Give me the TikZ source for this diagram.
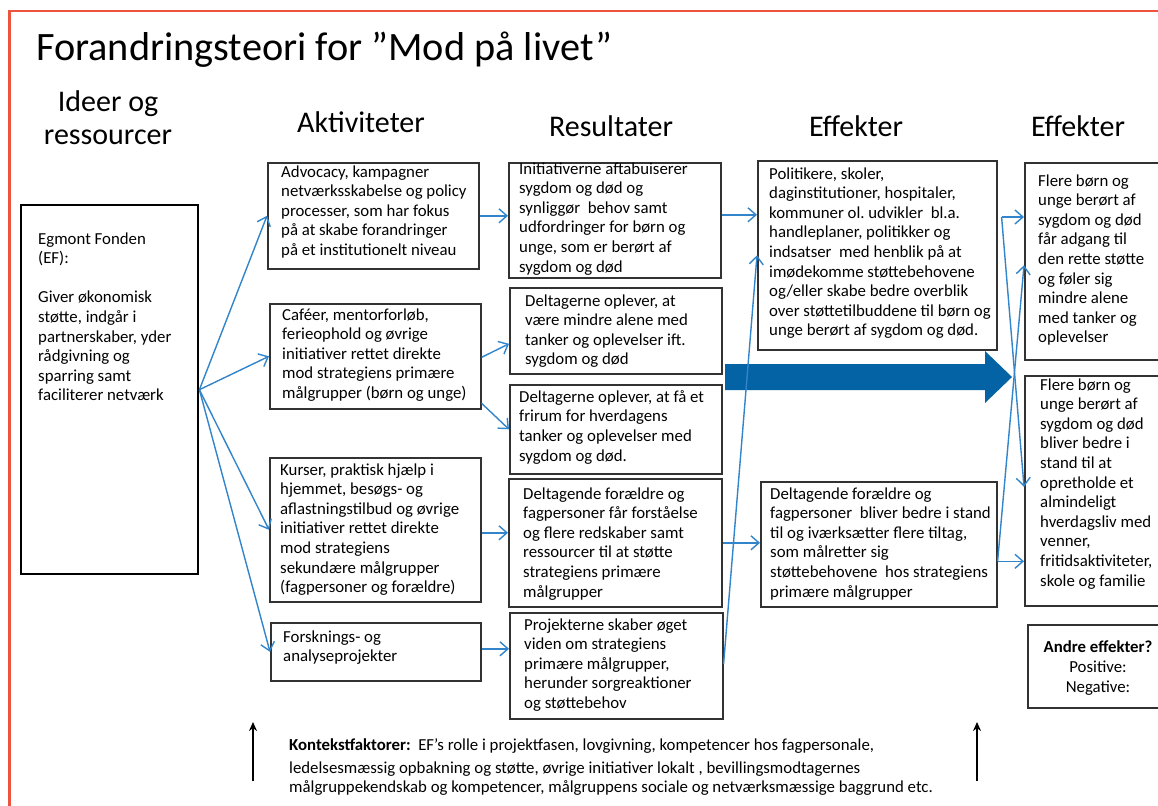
\documentclass[tikz,border=0pt]{standalone}
\usepackage{fontspec}
\setmainfont{Carlito}
\usetikzlibrary{arrows.meta,calc}
\definecolor{connblue}{RGB}{50,133,203}
\definecolor{bigblue}{RGB}{4,99,164}
\definecolor{framered}{RGB}{236,84,64}
\definecolor{boxline}{RGB}{50,50,50}
\begin{document}
\begin{tikzpicture}[x=1pt,y=-1pt,
  box/.style={draw=boxline,line width=1.6pt,inner sep=0pt,anchor=north west},
  txt/.style={anchor=north west,yshift=13.72pt,inner sep=0pt,align=left,font=\fontsize{16.8}{19.6}\selectfont\frenchspacing,execute at begin node={\strut}},
  ctxtxt/.style={anchor=north west,yshift=12.6pt,inner sep=0pt,align=left,font=\fontsize{16.8}{18.5}\selectfont\frenchspacing,execute at begin node={\strut}},
  link/.style={draw=connblue,line width=1.4pt,-{Straight Barb[length=8pt,width=14pt,line width=1.4pt]}},
  hdr/.style={font=\fontsize{30}{33}\selectfont,inner sep=0pt,anchor=base,align=center},
  ctxarrow/.style={draw=black,line width=2pt,-{Stealth[length=9pt,width=8pt]}}]
\clip (0,0) rectangle (1158,805);
\fill[white] (0,0) rectangle (1158,805);
% frame
\draw[framered,line width=2.5pt] (9.5,810) -- (9.5,11) -- (1165,11);
% title and headers
\node[anchor=base west,inner sep=0pt,font=\fontsize{40.3}{44}\selectfont] (title) at (36,61) {Forandringsteori for ”Mod på livet”};
\node[hdr] (hIdeer) at (108,145) {Ideer og\\ressourcer};
\node[hdr] (hAkt) at (361,133) {Aktiviteter};
\node[hdr] (hRes) at (611,137) {Resultater};
\node[hdr] (hEff1) at (856,137) {Effekter};
\node[hdr] (hEff2) at (1078,137) {Effekter};
% boxes
\node[box,draw=black,line width=2.4pt,minimum width=177pt,minimum height=369pt] (EF) at (20,204) {};
\node[box,minimum width=211pt,minimum height=106pt] (A1) at (267,162) {};
\node[box,minimum width=211pt,minimum height=105pt] (A2) at (269,303) {};
\node[box,minimum width=211pt,minimum height=144pt] (A3) at (269,457) {};
\node[box,minimum width=210pt,minimum height=58pt] (A4) at (270,622) {};
\node[box,minimum width=212pt,minimum height=115pt] (R1) at (508,162) {};
\node[box,minimum width=212pt,minimum height=86pt] (R2) at (509,287) {};
\node[box,minimum width=212pt,minimum height=89pt] (R3) at (509,384) {};
\node[box,minimum width=213pt,minimum height=128pt] (R4) at (508,478) {};
\node[box,minimum width=213pt,minimum height=106pt] (R5) at (509,612) {};
\node[box,minimum width=239pt,minimum height=189pt] (E1) at (757,160) {};
\node[box,minimum width=236pt,minimum height=125pt] (E2) at (760,481) {};
\node[box,minimum width=135pt,minimum height=197pt] (F1) at (1024,162) {};
\node[box,minimum width=135pt,minimum height=230pt] (F2) at (1024,375) {};
\node[box,minimum width=132pt,minimum height=83pt] (F3) at (1027,624) {};
% texts (positions give the first baseline)
\node[txt] (tEF) at (38,246) {Egmont Fonden\\(EF):\\[19.6pt]Giver økonomisk\\støtte, indgår i\\partnerskaber, yder\\rådgivning og\\sparring samt\\faciliterer netværk};
\node[txt] (tA1) at (281,179) {Advocacy, kampagner\\netværksskabelse og policy\\processer, som har fokus\\på at skabe forandringer\\på et institutionelt niveau};
\node[txt] (tA2) at (282,322) {Caféer, mentorforløb,\\ferieophold og øvrige\\initiativer rettet direkte\\mod strategiens primære\\målgrupper (børn og unge)};
\node[txt] (tA3) at (280,477) {Kurser, praktisk hjælp i\\hjemmet, besøgs- og\\aflastningstilbud og øvrige\\initiativer rettet direkte\\mod strategiens\\sekundære målgrupper\\(fagpersoner og forældre)};
\node[txt] (tA4) at (283,644) {Forsknings- og\\analyseprojekter};
\node[txt] (tR1) at (519,176) {Initiativerne aftabuiserer\\sygdom og død og\\synliggør\ \ behov samt\\udfordringer for børn og\\unge, som er berørt af\\sygdom og død};
\node[txt] (tR2) at (525,308) {Deltagerne oplever, at\\være mindre alene med\\tanker og oplevelser ift.\\sygdom og død};
\node[txt] (tR3) at (519,404) {Deltagerne oplever, at få et\\frirum for hverdagens\\tanker og oplevelser med\\sygdom og død.};
\node[txt] (tR4) at (523,501) {Deltagende forældre og\\fagpersoner får forståelse\\og flere redskaber samt\\ressourcer til at støtte\\strategiens primære\\målgrupper};
\node[txt] (tR5) at (524,632) {Projekterne skaber øget\\viden om strategiens\\primære målgrupper,\\herunder sorgreaktioner\\og støttebehov};
\node[txt] (tE1) at (769,181) {Politikere, skoler,\\daginstitutioner, hospitaler,\\kommuner ol. udvikler\ \ bl.a.\\handleplaner, politikker og\\indsatser\ \ med henblik på at\\imødekomme støttebehovene\\og/eller skabe bedre overblik\\over støttetilbuddene til børn og\\unge berørt af sygdom og død.};
\node[txt] (tE2) at (770,501) {Deltagende forældre og\\fagpersoner\ \ bliver bedre i stand\\til og iværksætter flere tiltag,\\som målretter sig\\støttebehovene\ \ hos strategiens\\primære målgrupper};
\node[txt] (tF1) at (1038,188) {Flere børn og\\unge berørt af\\sygdom og død\\får adgang til\\den rette støtte\\og føler sig\\mindre alene\\med tanker og\\oplevelser};
\node[txt] (tF2) at (1040,392) {Flere børn og\\unge berørt af\\sygdom og død\\bliver bedre i\\stand til at\\opretholde et\\almindeligt\\hverdagsliv med\\venner,\\fritidsaktiviteter,\\skole og familie};
\node[hdr,font=\fontsize{16.8}{19.6}\selectfont] (tF3) at (1098,692) {\textbf{Andre effekter?}\\Positive:\\Negative:};
% big arrow
\fill[bigblue] (725,364) -- (985,364) -- (985,351) -- (1012,377) -- (985,403) -- (985,390) -- (725,390) -- cycle;
% connectors
\draw[link] (EF.east) -- (A1.west);
\draw[link] (EF.east) -- (A2.west);
\draw[link] (EF.east) -- (A3.west);
\draw[link] (EF.east) -- (A4.west);
\draw[link] (A1.east) -- (A1.east -| R1.west);
\draw[link] ($(A2.east)+(0,1)$) -- ($(R2.west)+(0,13)$);
\draw[link] ($(A2.east)+(0,47)$) -- (R3.west);
\draw[link] ($(A3.east)+(0,3)$) -- ($(A3.east -| R4.west)+(0,3)$);
\draw[link] ($(A4.east)+(0,-3)$) -- ($(A4.east -| R5.west)+(0,-3)$);
\draw[link] ($(R1.east)+(0,-5.5)$) -- ($(R1.east -| E1.west)+(0,-5.5)$);
\draw[link] ($(R5.east)+(0,-2)$) -- (E1.west);
\draw[link] (R4.east) -- (R4.east -| E2.west);
\coordinate (e1out) at ($(E1.north east)+(4,57)$);
\draw[link] (e1out) -- (e1out -| F1.west);
\draw[link] (e1out) -- ($(F2.west)+(0,-4)$);
\coordinate (e2out) at ($(E2.east)+(0,17)$);
\draw[link] (e2out) -- (e2out -| F2.west);
\draw[link] (e2out) -- ($(F1.west)+(0,4)$);
% context
\coordinate (ctxLb) at (253,781);
\coordinate (ctxLt) at (253,722);
\coordinate (ctxRb) at (977,781);
\coordinate (ctxRt) at (977,722);
\draw[ctxarrow] (ctxLb) -- (ctxLt);
\draw[ctxarrow] (ctxRb) -- (ctxRt);
\node[ctxtxt] (ctx) at (289,751) {\textbf{Kontekstfaktorer:}\ \ EF’s rolle i projektfasen, lovgivning, kompetencer hos fagpersonale,\\[5pt]ledelsesmæssig opbakning og støtte, øvrige initiativer lokalt , bevillingsmodtagernes\\målgruppekendskab og kompetencer, målgruppens sociale og netværksmæssige baggrund etc.};
\end{tikzpicture}
\end{document}
